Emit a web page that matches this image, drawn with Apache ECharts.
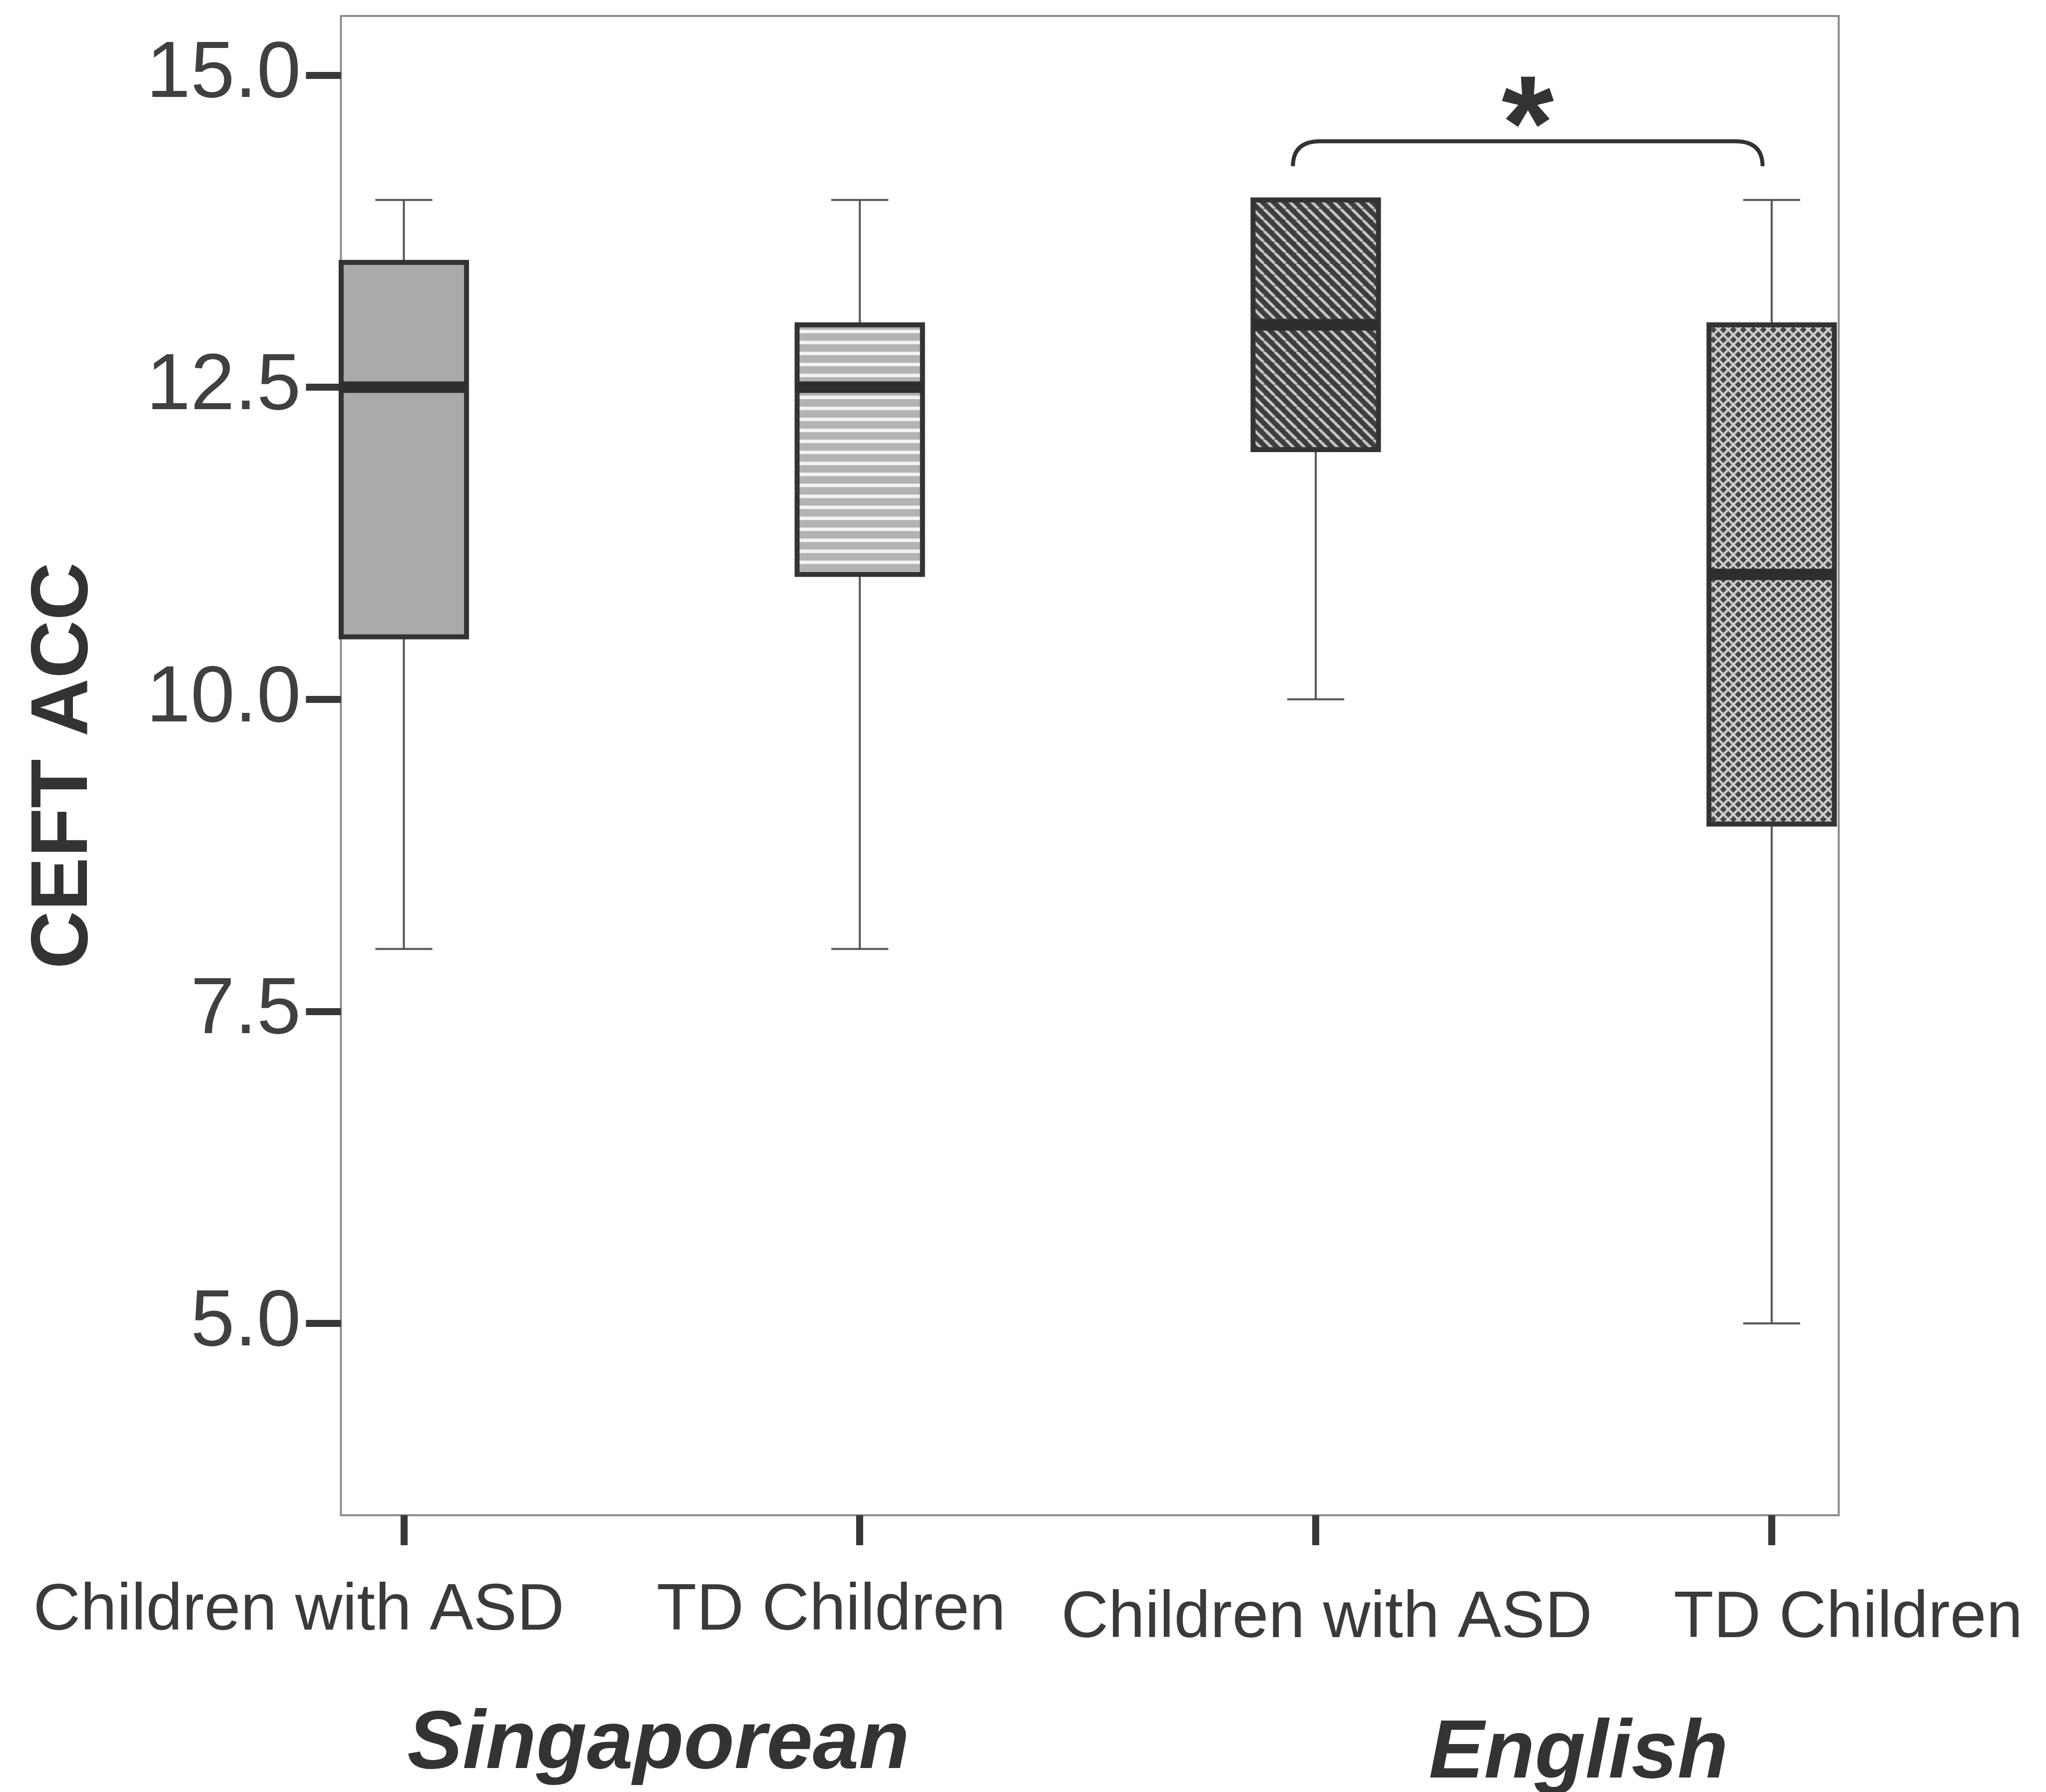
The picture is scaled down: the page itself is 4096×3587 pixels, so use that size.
<!DOCTYPE html>
<html>
<head>
<meta charset="utf-8">
<script src="https://cdn.jsdelivr.net/npm/echarts@6/dist/echarts.min.js"></script>
<style>
html,body{margin:0;padding:0;background:#ffffff;}
#chart{width:4096px;height:3587px;}
</style>
</head>
<body>
<div id="chart"></div>
<script>
// ---------------- data ----------------
const categories = ['Children with ASD', 'TD Children', 'Children with ASD', 'TD Children'];
const groups = ['Singaporean', 'English'];
const xPositions = [1, 2, 3, 4];
const whiskerLow = [8, 8, 10, 5];
const q1Values = [10.5, 11, 12, 9];
const medianValues = [12.5, 12.5, 13, 11];
const q3Values = [13.5, 13, 14, 13];
const whiskerHigh = [14, 14, 14, 14];
const yTicks = [5, 7.5, 10, 12.5, 15];
const yTickLabels = ['5.0', '7.5', '10.0', '12.5', '15.0'];
const yAxisTitle = 'CEFT ACC';
const sigPair = [3, 4];
const sigMark = '*';

// ---------------- layout / style ----------------
const FONT = '"Liberation Sans", Arial, Helvetica, sans-serif';
const BOX_W = 0.275;      // x units
const CAP_W = 0.125;      // x units
const BR_LEVEL = 14.47;
const BR_DROP = 0.2;
const BR_L_OFF = -0.05;
const BR_R_OFF = -0.02;

function tile(kind) {
  const c = document.createElement('canvas');
  let p;
  if (kind === 'stripe') {
    p = 22; c.width = p; c.height = p;
    const g = c.getContext('2d');
    g.fillStyle = '#b3b3b3'; g.fillRect(0, 0, p, p);
    g.fillStyle = '#f2f2f2'; g.fillRect(0, 0, p, 7);
  } else if (kind === 'diag') {
    p = 22; c.width = p; c.height = p;
    const g = c.getContext('2d');
    g.fillStyle = '#3e3e3e'; g.fillRect(0, 0, p, p);
    g.strokeStyle = '#c4c4c4'; g.lineWidth = 5.5;
    for (const x0 of [-p, 0, p]) {
      g.beginPath(); g.moveTo(x0, 0); g.lineTo(x0 + p, p); g.stroke();
    }
  } else {
    p = 20; c.width = p; c.height = p;
    const g = c.getContext('2d');
    g.fillStyle = '#474747'; g.fillRect(0, 0, p, p);
    g.strokeStyle = '#cdcdcd'; g.lineWidth = 4.5;
    for (const x0 of [-p, 0, p]) {
      g.beginPath(); g.moveTo(x0, 0); g.lineTo(x0 + p, p); g.stroke();
      g.beginPath(); g.moveTo(x0, p); g.lineTo(x0 + p, 0); g.stroke();
    }
  }
  return { image: c, repeat: 'repeat' };
}
const fills = ['#aaaaaa', tile('stripe'), tile('diag'), tile('cross')];

const boxData = xPositions.map((x, i) => [x, whiskerLow[i], q1Values[i], medianValues[i], q3Values[i], whiskerHigh[i]]);

const chart = echarts.init(document.getElementById('chart'), null, { renderer: 'canvas' });

const catLabelPos = [[598, 3226], [1664, 3226], [2656, 3241], [3700, 3241]];
const groupLabelPos = [[1318, 3493], [3160, 3512]];

const option = {
  animation: false,
  backgroundColor: '#ffffff',
  grid: {
    left: 682.5, right: 415, top: 32, bottom: 554,
    show: true, borderColor: '#8c8c8c', borderWidth: 4, backgroundColor: 'transparent'
  },
  xAxis: {
    type: 'value', min: 0.862, max: 4.147,
    axisLine: { show: false },
    splitLine: { show: false },
    axisTick: { show: true, customValues: xPositions, length: 60, lineStyle: { color: '#383838', width: 14 } },
    axisLabel: { show: false }
  },
  yAxis: {
    type: 'value', min: 3.463, max: 15.474,
    axisLine: { show: false },
    splitLine: { show: false },
    axisTick: { show: true, customValues: yTicks, length: 70, lineStyle: { color: '#383838', width: 14 } },
    axisLabel: {
      show: true, customValues: yTicks, margin: 80,
      formatter: v => yTickLabels[yTicks.indexOf(v)],
      fontSize: 159, fontFamily: FONT, color: '#404040'
    },
    name: yAxisTitle, nameLocation: 'middle', nameRotate: 90, nameGap: 472,
    nameTextStyle: { fontSize: 161, fontWeight: 'bold', fontFamily: FONT, color: '#333333' }
  },
  series: [
    {
      type: 'custom',
      silent: true,
      data: boxData,
      renderItem: function (params, api) {
        const i = params.dataIndex;
        const x = api.value(0);
        const yLo = api.coord([x, api.value(1)])[1];
        const yQ1 = api.coord([x, api.value(2)])[1];
        const yMd = api.coord([x, api.value(3)])[1];
        const yQ3 = api.coord([x, api.value(4)])[1];
        const yHi = api.coord([x, api.value(5)])[1];
        const cx = api.coord([x, api.value(3)])[0];
        const hw = api.size([BOX_W, 0])[0] / 2;
        const ch = api.size([CAP_W, 0])[0] / 2;
        const wl = { stroke: '#555555', lineWidth: 4 };
        return {
          type: 'group',
          children: [
            { type: 'line', shape: { x1: cx, y1: yHi, x2: cx, y2: yQ3 }, style: wl },
            { type: 'line', shape: { x1: cx - ch, y1: yHi, x2: cx + ch, y2: yHi }, style: wl },
            { type: 'line', shape: { x1: cx, y1: yQ1, x2: cx, y2: yLo }, style: wl },
            { type: 'line', shape: { x1: cx - ch, y1: yLo, x2: cx + ch, y2: yLo }, style: wl },
            { type: 'rect', shape: { x: cx - hw, y: yQ3, width: hw * 2, height: yQ1 - yQ3 },
              style: { fill: fills[i], stroke: '#333333', lineWidth: 10 } },
            { type: 'line', shape: { x1: cx - hw, y1: yMd, x2: cx + hw, y2: yMd },
              style: { stroke: '#2e2e2e', lineWidth: 23 } }
          ]
        };
      }
    },
    {
      type: 'custom',
      silent: true,
      data: [sigPair],
      renderItem: function (params, api) {
        const a = api.value(0), b = api.value(1);
        const pL = api.coord([a + BR_L_OFF, BR_LEVEL]);
        const pR = api.coord([b + BR_R_OFF, BR_LEVEL]);
        const drop = api.size([0, BR_DROP])[1];
        const yh = pL[1], yb = yh + drop;
        const r = 55;
        const d = 'M' + pL[0] + ' ' + yb + ' Q' + pL[0] + ' ' + yh + ' ' + (pL[0] + r) + ' ' + yh +
                  ' L' + (pR[0] - r) + ' ' + yh + ' Q' + pR[0] + ' ' + yh + ' ' + pR[0] + ' ' + yb;
        const mx = (pL[0] + pR[0]) / 2;
        return {
          type: 'group',
          children: [
            { type: 'path', shape: { pathData: d }, style: { fill: 'none', stroke: '#333333', lineWidth: 8 } },
            { type: 'text', x: mx, y: yh - 18,
              style: { text: sigMark, fontSize: 270, fontWeight: 'bold', fontFamily: FONT, fill: '#333333', align: 'center', verticalAlign: 'middle' } }
          ]
        };
      }
    }
  ],
  graphic: [
    ...categories.map((t, i) => ({
      type: 'text', x: catLabelPos[i][0], y: catLabelPos[i][1], silent: true,
      style: { text: t, fontSize: 131, fontFamily: FONT, fill: '#3a3a3a', align: 'center', verticalAlign: 'middle' }
    })),
    ...groups.map((t, i) => ({
      type: 'text', x: groupLabelPos[i][0], y: groupLabelPos[i][1], silent: true,
      style: { text: t, fontSize: 166, fontWeight: 'bold', fontStyle: 'italic', fontFamily: FONT, fill: '#333333', align: 'center', verticalAlign: 'middle' }
    }))
  ]
};
chart.setOption(option);
</script>
</body>
</html>
